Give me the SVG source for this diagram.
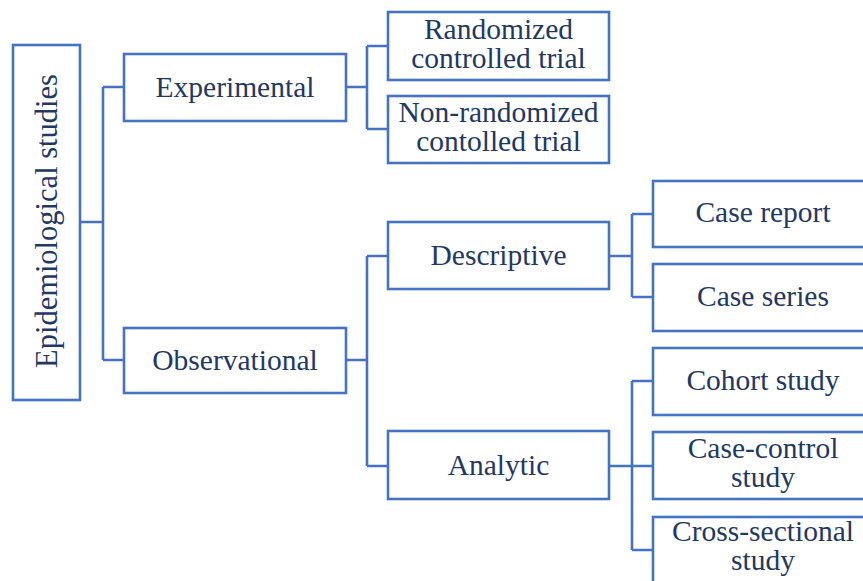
<svg xmlns="http://www.w3.org/2000/svg" width="863" height="581" viewBox="0 0 863 581">
<style>
.box{fill:#fff;stroke:#4472C4;stroke-width:2.6}
.lbl{font-family:"Liberation Serif","Times New Roman",serif;font-size:29.5px;fill:#1F3864;text-anchor:middle}
.conn{fill:none;stroke:#4472C4;stroke-width:2.6}
</style>
<rect width="863" height="581" fill="#fff"/>
<g id="connectors">
<path class="conn" d="M80,222H103M103,87V360M103,87H124M103,360H124"/>
<path class="conn" d="M346,87H367M367,46V129M367,46H388M367,129H388"/>
<path class="conn" d="M346,360H367M367,256V466M367,256H388M367,466H388"/>
<path class="conn" d="M609,256H632M632,214V297M632,214H653M632,297H653"/>
<path class="conn" d="M609,466H653M632,381V550M632,381H653M632,550H653"/>
</g>
<g id="root"><rect class="box" x="13" y="45" width="67" height="355"/><text class="lbl" transform="translate(57,221) rotate(-90)" style="font-size:30.5px">Epidemiological studies</text></g>
<g id="experimental"><rect class="box" x="124" y="54" width="222" height="67"/><text class="lbl" x="235" y="97">Experimental</text></g>
<g id="observational"><rect class="box" x="124" y="328" width="222" height="65"/><text class="lbl" x="235" y="370">Observational</text></g>
<g id="rct"><rect class="box" x="388" y="12" width="221" height="68"/><text class="lbl" x="498.5" y="39">Randomized</text><text class="lbl" x="498.5" y="68">controlled trial</text></g>
<g id="nrct"><rect class="box" x="388" y="96" width="221" height="67"/><text class="lbl" x="498.5" y="122">Non-randomized</text><text class="lbl" x="498.5" y="151">contolled trial</text></g>
<g id="descriptive"><rect class="box" x="388" y="222" width="221" height="67"/><text class="lbl" x="498.5" y="265">Descriptive</text></g>
<g id="analytic"><rect class="box" x="388" y="431" width="221" height="68"/><text class="lbl" x="498.5" y="475">Analytic</text></g>
<g id="casereport"><rect class="box" x="653" y="181" width="222" height="66"/><text class="lbl" x="763" y="222">Case report</text></g>
<g id="caseseries"><rect class="box" x="653" y="264" width="222" height="67"/><text class="lbl" x="763" y="306">Case series</text></g>
<g id="cohort"><rect class="box" x="653" y="348" width="222" height="67"/><text class="lbl" x="763" y="390">Cohort study</text></g>
<g id="casecontrol"><rect class="box" x="653" y="432" width="222" height="67"/><text class="lbl" x="763" y="458">Case-control</text><text class="lbl" x="763" y="487">study</text></g>
<g id="crosssectional"><rect class="box" x="653" y="517" width="222" height="68"/><text class="lbl" x="763" y="541">Cross-sectional</text><text class="lbl" x="763" y="570">study</text></g>
</svg>
